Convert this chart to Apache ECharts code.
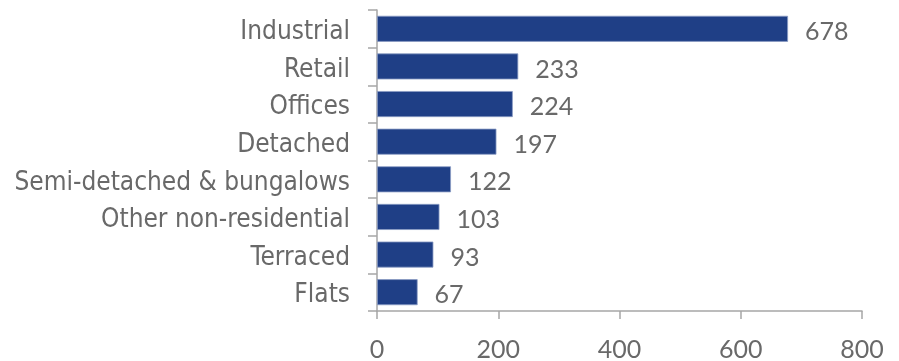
<!DOCTYPE html>
<html>
<head>
<meta charset="utf-8">
<script src="https://cdn.jsdelivr.net/npm/echarts@6/dist/echarts.min.js"></script>
<style>
  html, body { margin: 0; padding: 0; background: #ffffff; }
  #chart { width: 899px; height: 361px; }
</style>
</head>
<body>
<div id="chart"></div>
<script>
// Property types, listed top to bottom
const categories = ['Industrial', 'Retail', 'Offices', 'Detached', 'Semi-detached & bungalows', 'Other non-residential', 'Terraced', 'Flats'];
const values = [678, 233, 224, 197, 122, 103, 93, 67];
const xTicks = [0, 200, 400, 600, 800];

const axisGrey = '#a6a6a6';
const textGrey = '#696969';
const labelFont = '"DejaVu Sans Condensed", "Open Sans", sans-serif';
const numFont = 'Lato, "Noto Sans", sans-serif';

const chart = echarts.init(document.getElementById('chart'), null, { renderer: 'canvas' });
chart.setOption({
  animation: false,
  grid: { left: 377, right: 37, top: 10, bottom: 50, containLabel: false, outerBoundsMode: 'none' },
  xAxis: {
    type: 'value',
    min: xTicks[0],
    max: xTicks[xTicks.length - 1],
    interval: 200,
    axisLine: { show: true, lineStyle: { color: axisGrey, width: 1.5 } },
    axisTick: { show: true, length: 8, inside: false, lineStyle: { color: axisGrey, width: 1.5 } },
    splitLine: { show: false },
    axisLabel: { color: textGrey, fontSize: 25, fontFamily: numFont, margin: 26, hideOverlap: false }
  },
  yAxis: {
    type: 'category',
    inverse: true,
    data: categories,
    axisLine: { show: true, lineStyle: { color: axisGrey, width: 1.5 } },
    axisTick: { show: true, length: 9, lineStyle: { color: axisGrey, width: 1.5 } },
    axisLabel: {
      margin: 27, interval: 0, hideOverlap: false,
      formatter: (v) => '{c|' + v + '}',
      rich: {
        c: { color: textGrey, fontSize: 26, fontFamily: labelFont, padding: [7, 0, 0, 0] }
      }
    }
  },
  series: [{
    type: 'bar',
    data: values,
    barWidth: 26,
    itemStyle: { color: '#1f3f86', borderColor: '#8a9cc4', borderWidth: 0.8 },
    label: {
      show: true,
      position: 'right',
      distance: 17,
      offset: [0, 3],
      color: textGrey,
      fontSize: 25,
      fontFamily: numFont
    }
  }]
});
</script>
</body>
</html>
